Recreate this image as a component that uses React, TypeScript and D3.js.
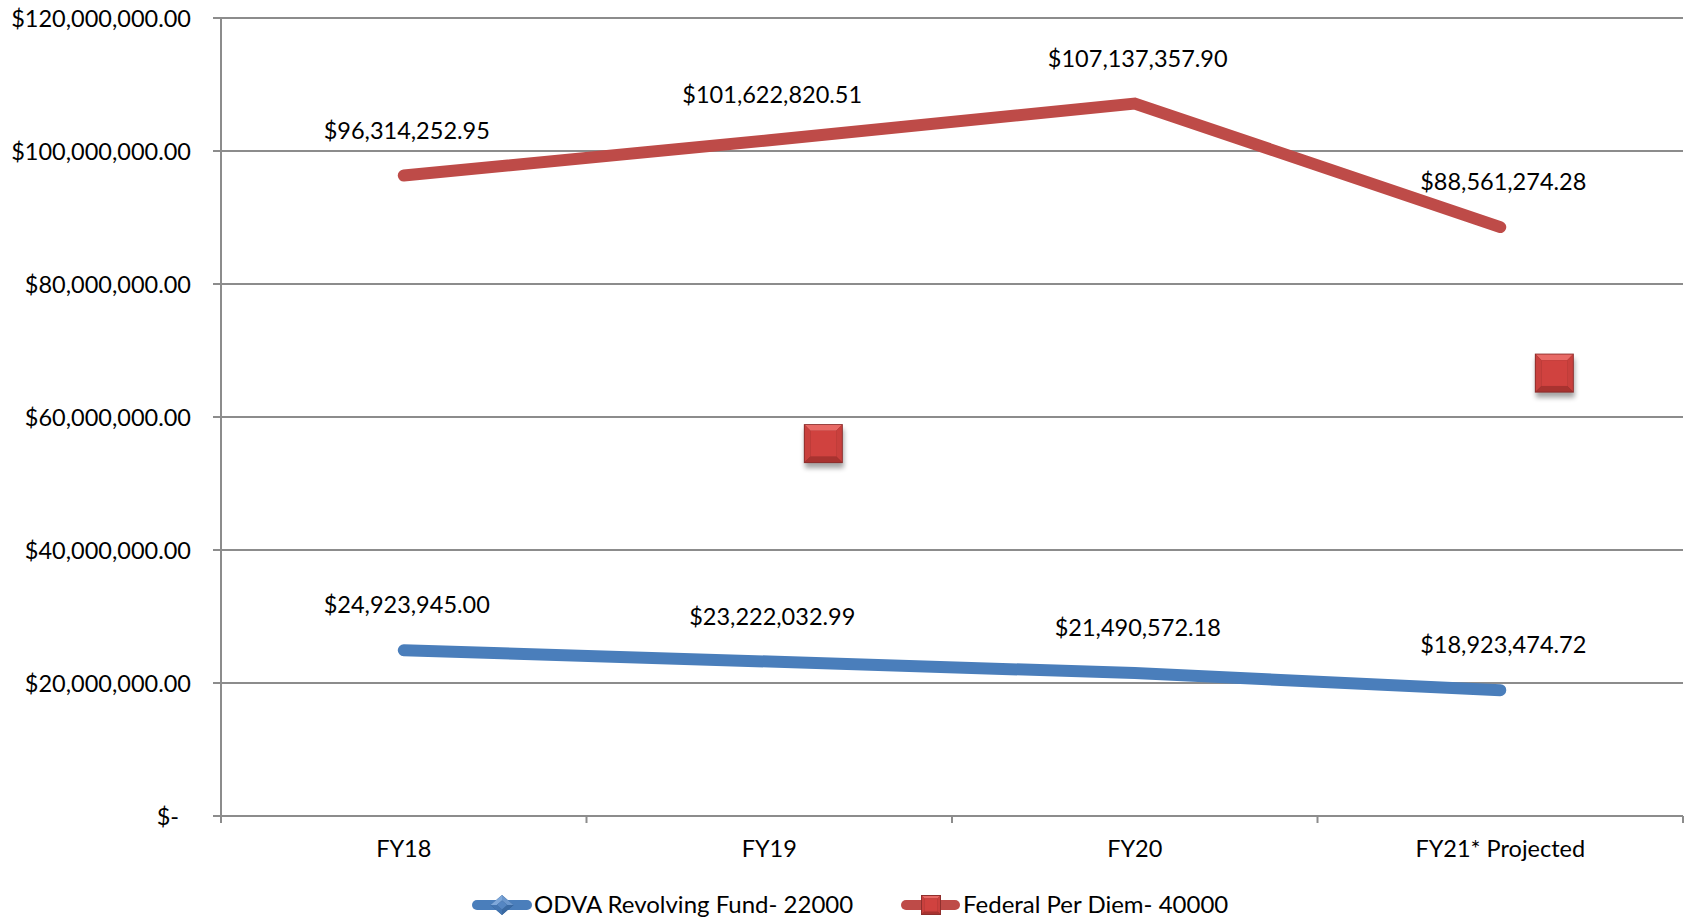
import React from "react";
import * as d3 from "d3";

const categories = ["FY18", "FY19", "FY20", "FY21* Projected"];
const odvaValues = [24923945.0, 23222032.99, 21490572.18, 18923474.72];
const federalValues = [96314252.95, 101622820.51, 107137357.9, 88561274.28];
// stray square markers visible in the chart (category, value)
const strayMarkerCats = ["FY19", "FY21* Projected"];
const strayMarkerValues = [56000000, 66600000];
const yTicks = [0, 20000000, 40000000, 60000000, 80000000, 100000000, 120000000];
const seriesNames = ["ODVA Revolving Fund- 22000", "Federal Per Diem- 40000"];

const W = 1692;
const H = 920;
const M = { left: 221, right: 1683, top: 18, bottom: 816 };
const FONT = "Lato, 'Open Sans', sans-serif";
const FS = 23.5;
const LFS = 24;
const BLUE = "#4A7EBB";
const RED = "#BE4B48";
const GRID = "#8C8C8C";

const money = d3.format("$,.2f");

function BevelSquare({ cx, cy, s, shadow }: { cx: number; cy: number; s: number; shadow?: boolean }) {
  const h = s / 2;
  const b = s * 0.17;
  const x0 = cx - h, x1 = cx + h, y0 = cy - h, y1 = cy + h;
  const ix0 = x0 + b, ix1 = x1 - b, iy0 = y0 + b, iy1 = y1 - b;
  const p = (pts: number[][]) => pts.map((q) => q.join(",")).join(" ");
  return (
    <g>
      {shadow && (
        <rect x={x0 + 1} y={y0 + 5} width={s} height={s} fill="#000" opacity={0.35} filter="url(#blur)" />
      )}
      <rect x={x0} y={y0} width={s} height={s} fill="#8F2F2D" />
      <polygon points={p([[x0 + 1, y0 + 1], [x1 - 1, y0 + 1], [ix1, iy0], [ix0, iy0]])} fill="#E86A66" />
      <polygon points={p([[x0 + 1, y0 + 1], [ix0, iy0], [ix0, iy1], [x0 + 1, y1 - 1]])} fill="#C9403D" />
      <polygon points={p([[x1 - 1, y0 + 1], [x1 - 1, y1 - 1], [ix1, iy1], [ix1, iy0]])} fill="#C9403D" />
      <polygon points={p([[x0 + 1, y1 - 1], [ix0, iy1], [ix1, iy1], [x1 - 1, y1 - 1]])} fill="#A83330" />
      <rect x={ix0} y={iy0} width={ix1 - ix0} height={iy1 - iy0} fill="#D0423F" />
    </g>
  );
}

function BevelDiamond({ cx, cy, w, h }: { cx: number; cy: number; w: number; h: number }) {
  const p = (pts: number[][]) => pts.map((q) => q.join(",")).join(" ");
  const L = [cx - w / 2, cy], T = [cx, cy - h / 2], R = [cx + w / 2, cy], B = [cx, cy + h / 2];
  const k = 0.45;
  const iL = [cx - (w / 2) * k, cy], iT = [cx, cy - (h / 2) * k], iR = [cx + (w / 2) * k, cy], iB = [cx, cy + (h / 2) * k];
  return (
    <g>
      <polygon points={p([L, T, R, B])} fill="#2F5A8C" />
      <polygon points={p([L, T, iT, iL])} fill="#7FA8DA" />
      <polygon points={p([T, R, iR, iT])} fill="#6B97CD" />
      <polygon points={p([R, B, iB, iR])} fill="#3A6AA3" />
      <polygon points={p([B, L, iL, iB])} fill="#4476B2" />
      <polygon points={p([iL, iT, iR, iB])} fill="#5586C2" />
    </g>
  );
}

export default function App() {
  const x = d3.scaleBand<string>().domain(categories).range([M.left, M.right]).padding(0);
  const bw = x.bandwidth();
  const cx = (c: string) => (x(c) as number) + bw / 2;
  const y = d3.scaleLinear().domain([0, 120000000]).range([M.bottom, M.top]);

  const line = d3
    .line<number>()
    .x((_, i) => cx(categories[i]))
    .y((d) => y(d));

  const boundaries = [...categories.map((c) => x(c) as number), M.right];

  return (
    <svg
      width={W}
      height={H}
      viewBox={`0 0 ${W} ${H}`}
      style={{ position: "fixed", left: 0, top: 0, background: "#fff" }}
      fontFamily={FONT}
    >
      <defs>
        <filter id="blur" x="-50%" y="-50%" width="200%" height="200%">
          <feGaussianBlur stdDeviation="2.5" />
        </filter>
      </defs>
      <rect x={0} y={0} width={W} height={H} fill="#fff" />

      {/* gridlines + y ticks */}
      {yTicks.map((t) => (
        <g key={t}>
          <line x1={M.left - 8} x2={M.right} y1={y(t)} y2={y(t)} stroke={GRID} strokeWidth={2} />
          <text
            x={191}
            dx={t === 0 ? -12 : 0}
            y={y(t) + 8.5}
            textAnchor="end"
            fontSize={FS}
            fill="#000"
          >
            {t === 0 ? "$-" : money(t)}
          </text>
        </g>
      ))}

      {/* y axis line */}
      <line x1={M.left} x2={M.left} y1={M.top} y2={M.bottom + 7} stroke={GRID} strokeWidth={2} />
      {/* x axis ticks */}
      {boundaries.map((b, i) => (
        <line key={i} x1={b} x2={b} y1={M.bottom} y2={M.bottom + 7} stroke={GRID} strokeWidth={2} />
      ))}

      {/* x labels */}
      {categories.map((c) => (
        <text key={c} x={cx(c)} y={857} textAnchor="middle" fontSize={FS} fill="#000">
          {c}
        </text>
      ))}

      {/* lines */}
      <path d={line(federalValues) || ""} fill="none" stroke={RED} strokeWidth={12} strokeLinecap="round" strokeLinejoin="miter" />
      <path d={line(odvaValues) || ""} fill="none" stroke={BLUE} strokeWidth={12} strokeLinecap="round" strokeLinejoin="miter" />

      {/* stray square markers */}
      {strayMarkerCats.map((c, i) => (
        <BevelSquare key={c} cx={cx(c) + bw * 0.148} cy={y(strayMarkerValues[i])} s={39} shadow />
      ))}

      {/* data labels */}
      {federalValues.map((v, i) => (
        <text key={"f" + i} x={cx(categories[i]) + 3} y={y(v) - 37} textAnchor="middle" fontSize={FS} fill="#000">
          {money(v)}
        </text>
      ))}
      {odvaValues.map((v, i) => (
        <text key={"o" + i} x={cx(categories[i]) + 3} y={y(v) - 37} textAnchor="middle" fontSize={FS} fill="#000">
          {money(v)}
        </text>
      ))}

      {/* legend */}
      <g>
        <line x1={477} x2={527} y1={905} y2={905} stroke={BLUE} strokeWidth={10} strokeLinecap="round" />
        <BevelDiamond cx={502} cy={905} w={23} h={20} />
        <text x={534} y={913} fontSize={LFS} fill="#000">
          {seriesNames[0]}
        </text>
        <line x1={906} x2={955} y1={905} y2={905} stroke={RED} strokeWidth={10} strokeLinecap="round" />
        <BevelSquare cx={931} cy={905} s={20} />
        <text x={963} y={913} fontSize={LFS} fill="#000">
          {seriesNames[1]}
        </text>
      </g>
    </svg>
  );
}
